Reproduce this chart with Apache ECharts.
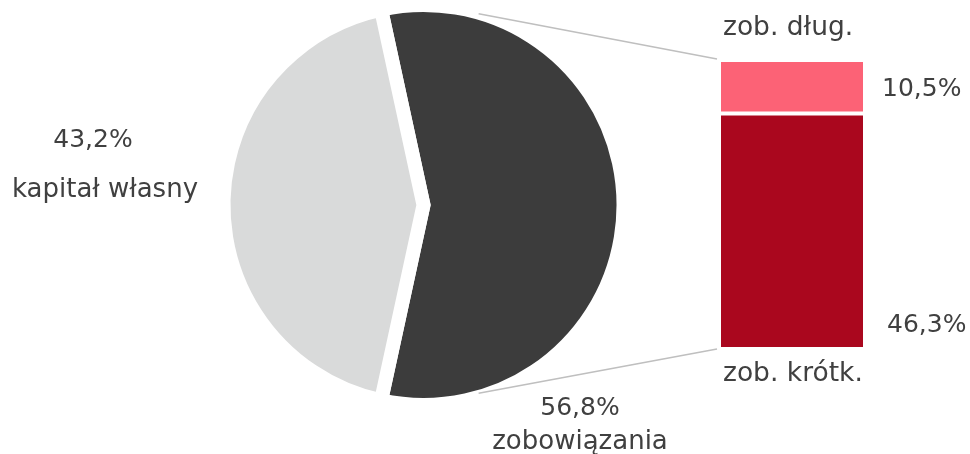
<!DOCTYPE html>
<html>
<head>
<meta charset="utf-8">
<script src="https://cdn.jsdelivr.net/npm/echarts@6/dist/echarts.min.js"></script>
<style>
html, body { margin: 0; padding: 0; background: #fff; }
#main { width: 970px; height: 454px; }
</style>
</head>
<body>
<div id="main"></div>
<script>
// dane
var pieNames = ['zobowiązania', 'kapitał własny'];
var pieValues = [56.8, 43.2];
var barNames = ['zob. krótk.', 'zob. dług.'];
var barValues = [46.3, 10.5];

var textColor = '#404040';
var font = 'DejaVu Sans';

function pct(v) {
  return v.toFixed(1).replace('.', ',') + '%';
}

var pieCenter = [423.5, 205];
var pieRadius = 200;
// jasny wycinek wycentrowany po lewej stronie
var startAngle = 180 - pieValues[1] * 1.8;

var chartDom = document.getElementById('main');
var myChart = echarts.init(chartDom);

var option = {
  backgroundColor: '#fff',
  animation: false,
  textStyle: { fontFamily: font },
  grid: { left: 719, top: 60, width: 146, height: 289 },
  xAxis: { type: 'category', data: ['zob'], show: false },
  yAxis: { type: 'value', min: 0, max: pieValues[0], show: false },
  series: [
    {
      type: 'pie',
      center: pieCenter,
      radius: pieRadius,
      startAngle: startAngle,
      clockwise: true,
      data: [
        { name: pieNames[0], value: pieValues[0], itemStyle: { color: '#3c3c3c' } },
        { name: pieNames[1], value: pieValues[1], itemStyle: { color: '#d9dada' } }
      ],
      itemStyle: {
        borderColor: '#fff',
        borderWidth: 14,
        borderJoin: 'miter'
      },
      labelLine: { show: false },
      emphasis: { disabled: true },
      label: {
        show: true,
        position: 'outside',
        overflow: 'none',
        width: 300,
        formatter: function (p) {
          return '{p' + p.dataIndex + '|' + pct(p.value) + '}\n{n' + p.dataIndex + '|' + p.name + '}';
        },
        rich: {
          p0: { fontSize: 25, color: textColor, fontFamily: font, lineHeight: 34 },
          n0: { fontSize: 26, color: textColor, fontFamily: font, lineHeight: 34 },
          p1: { fontSize: 25, color: textColor, fontFamily: font, lineHeight: 50, padding: [0, 24, 0, 0] },
          n1: { fontSize: 26, color: textColor, fontFamily: font, lineHeight: 50 }
        }
      },
      labelLayout: function (p) {
        if (p.dataIndex === 0) {
          return { x: 580, y: 425, align: 'center', verticalAlign: 'middle' };
        }
        return { x: 105, y: 165, align: 'center', verticalAlign: 'middle' };
      }
    },
    {
      type: 'bar',
      name: barNames[0],
      stack: 'zob',
      barWidth: '100%',
      data: [barValues[0]],
      itemStyle: { color: '#aa071e', borderColor: '#fff', borderWidth: 2 },
      emphasis: { disabled: true },
      label: {
        show: true,
        position: [168, 212],
        align: 'left',
        verticalAlign: 'middle',
        fontSize: 25,
        color: textColor,
        fontFamily: font,
        formatter: function (p) { return pct(p.value); }
      }
    },
    {
      type: 'bar',
      name: barNames[1],
      stack: 'zob',
      barWidth: '100%',
      data: [barValues[1]],
      itemStyle: { color: '#fc6276', borderColor: '#fff', borderWidth: 2 },
      emphasis: { disabled: true },
      label: {
        show: true,
        position: [163, 29],
        align: 'left',
        verticalAlign: 'middle',
        fontSize: 25,
        color: textColor,
        fontFamily: font,
        formatter: function (p) { return pct(p.value); }
      }
    }
  ]
};
option && myChart.setOption(option);

// linie łączące koło ze słupkiem
var barTop = myChart.convertToPixel({ gridIndex: 0 }, [0, pieValues[0]]);
var barBottom = myChart.convertToPixel({ gridIndex: 0 }, [0, 0]);
var barLeft = 719;
var a = 16 * Math.PI / 180;
var px = pieCenter[0] + pieRadius * Math.sin(a);
var pyTop = pieCenter[1] - pieRadius * Math.cos(a);
var pyBottom = pieCenter[1] + pieRadius * Math.cos(a);

myChart.setOption({
  graphic: [
    {
      type: 'line',
      z: 100,
      shape: { x1: px, y1: pyTop + 1, x2: barLeft - 2, y2: barTop[1] - 1 },
      style: { stroke: '#bfbfbf', lineWidth: 1.5 }
    },
    {
      type: 'line',
      z: 100,
      shape: { x1: px, y1: pyBottom - 4, x2: barLeft - 2, y2: barBottom[1] },
      style: { stroke: '#bfbfbf', lineWidth: 1.5 }
    },
    {
      type: 'text',
      left: 723,
      top: 15,
      style: { text: barNames[1], fontSize: 26.5, fontFamily: font, fill: textColor }
    },
    {
      type: 'text',
      left: 723,
      top: 361,
      style: { text: barNames[0], fontSize: 26.5, fontFamily: font, fill: textColor }
    }
  ]
});
</script>
</body>
</html>
